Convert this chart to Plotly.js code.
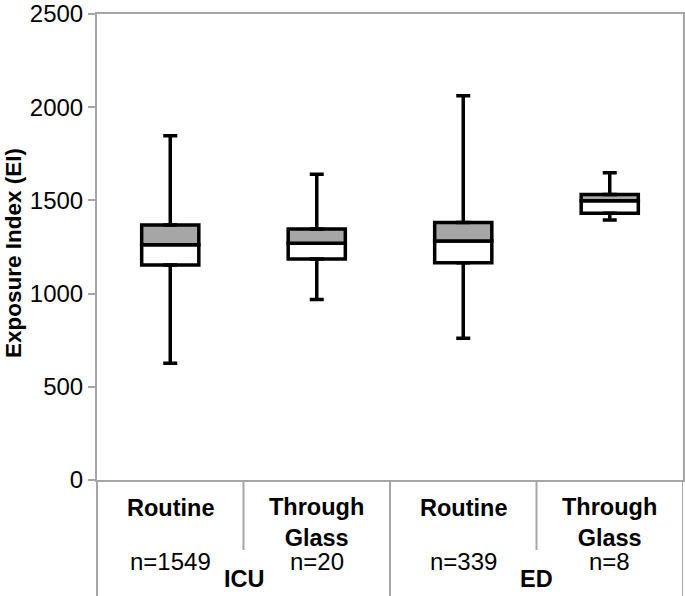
<!DOCTYPE html>
<html>
<head>
<meta charset="utf-8">
<script src="https://cdn.plot.ly/plotly-3.0.1.min.js"></script>
<style>
  html, body { margin: 0; padding: 0; background: #fff; }
  #chart { width: 685px; height: 596px; }
</style>
</head>
<body>
<div id="chart"></div>
<script>
// ---- data ----
const categories = ['Routine', 'Through<br>Glass', 'Routine', 'Through<br>Glass'];
const groupNames = ['ICU', 'ED'];
const groupOf = [0, 0, 1, 1];
const nLabels = ['n=1549', 'n=20', 'n=339', 'n=8'];
const minVals = [626, 969, 760, 1395];
const q1Vals = [1153, 1186, 1166, 1431];
const medVals = [1262, 1270, 1282, 1498];
const q3Vals = [1368, 1347, 1382, 1531];
const maxVals = [1847, 1640, 2062, 1648];
const yTicks = [0, 500, 1000, 1500, 2000, 2500];

// ---- layout helpers ----
const W = 685, H = 596;
const M = { l: 97, r: 2, t: 14, b: 116 };
const plotH = H - M.t - M.b;
const plotW = W - M.l - M.r;
const py = p => (H - M.b - p) / plotH;   // pixel y -> paper y
const px = p => (p - M.l) / plotW;       // pixel x -> paper x

const idx = categories.map((_, i) => i);
const FONT = 'Liberation Sans, Arial, sans-serif';
const GRID = '#a6a6a6';

const lowerBox = {
  type: 'bar', x: idx, base: q1Vals,
  y: idx.map(i => medVals[i] - q1Vals[i]),
  width: 0.39,
  marker: { color: '#ffffff', line: { color: '#000000', width: 3.5 } },
  hoverinfo: 'skip', showlegend: false
};
const upperBox = {
  type: 'bar', x: idx, base: medVals,
  y: idx.map(i => q3Vals[i] - medVals[i]),
  width: 0.39,
  marker: { color: '#a6a6a6', line: { color: '#000000', width: 3.5 } },
  hoverinfo: 'skip', showlegend: false
};
const upperWhisker = {
  type: 'scatter', mode: 'markers', x: idx, y: q3Vals,
  marker: { size: 1, opacity: 0 },
  error_y: { type: 'data', symmetric: false,
    array: idx.map(i => maxVals[i] - q3Vals[i]),
    arrayminus: idx.map(() => 0),
    color: '#000000', thickness: 3.5, width: 7 },
  hoverinfo: 'skip', showlegend: false
};
const lowerWhisker = {
  type: 'scatter', mode: 'markers', x: idx, y: q1Vals,
  marker: { size: 1, opacity: 0 },
  error_y: { type: 'data', symmetric: false,
    array: idx.map(() => 0),
    arrayminus: idx.map(i => q1Vals[i] - minVals[i]),
    color: '#000000', thickness: 3.5, width: 7 },
  hoverinfo: 'skip', showlegend: false
};

const annotations = [];
idx.forEach(i => {
  annotations.push({
    x: i, xref: 'x', y: py(categories[i].includes('<br>') ? 522 : 508), yref: 'paper',
    text: '<b>' + categories[i] + '</b>', showarrow: false,
    xanchor: 'center', yanchor: 'middle',
    font: { family: FONT, size: 23.5, color: '#000' }
  });
  annotations.push({
    x: i, xref: 'x', y: py(561), yref: 'paper',
    text: nLabels[i], showarrow: false,
    xanchor: 'center', yanchor: 'middle',
    font: { family: FONT, size: 24, color: '#000' }
  });
});
groupNames.forEach((g, gi) => {
  const members = idx.filter(i => groupOf[i] === gi);
  const cx = members.reduce((a, b) => a + b, 0) / members.length;
  annotations.push({
    x: cx, xref: 'x', y: py(579), yref: 'paper',
    text: '<b>' + g + '</b>', showarrow: false,
    xanchor: 'center', yanchor: 'middle',
    font: { family: FONT, size: 23.5, color: '#000' }
  });
});
annotations.push({
  x: px(13), xref: 'paper', y: py(253), yref: 'paper',
  text: '<b>Exposure Index (EI)</b>', showarrow: false, textangle: -90,
  xanchor: 'center', yanchor: 'middle',
  font: { family: FONT, size: 22.5, color: '#000' }
});

// frame / divider lines of the category area
const shapes = [];
const bottomP = py(H);
shapes.push({ type: 'line', xref: 'paper', yref: 'paper', x0: 0, x1: 0, y0: bottomP, y1: 0,
  line: { color: GRID, width: 2 } });
for (let k = 0; k < categories.length; k++) {
  const xb = k + 0.5;
  const isGroupEnd = (k === categories.length - 1) || groupOf[k] !== groupOf[k + 1];
  shapes.push({ type: 'line', xref: 'x', yref: 'paper', x0: xb, x1: xb,
    y0: isGroupEnd ? bottomP : py(550), y1: 0,
    line: { color: GRID, width: 2 } });
}

const layout = {
  width: W, height: H,
  margin: M,
  paper_bgcolor: '#fff', plot_bgcolor: '#fff',
  barmode: 'overlay',
  showlegend: false,
  font: { family: FONT, size: 24, color: '#000' },
  xaxis: {
    range: [-0.5, categories.length - 0.5],
    showticklabels: false, ticks: '', showgrid: false, zeroline: false,
    showline: true, linecolor: GRID, linewidth: 2, mirror: true,
    fixedrange: true
  },
  yaxis: {
    range: [0, 2500], tickvals: yTicks, ticktext: yTicks.map(String),
    ticks: 'outside', ticklen: 7, tickwidth: 2, tickcolor: GRID,
    showgrid: false, zeroline: false,
    showline: true, linecolor: GRID, linewidth: 2, mirror: true,
    tickfont: { family: FONT, size: 24, color: '#000' },
    fixedrange: true
  },
  annotations: annotations,
  shapes: shapes
};

Plotly.newPlot('chart', [lowerBox, upperBox, upperWhisker, lowerWhisker], layout,
  { staticPlot: true, displayModeBar: false });
</script>
</body>
</html>
